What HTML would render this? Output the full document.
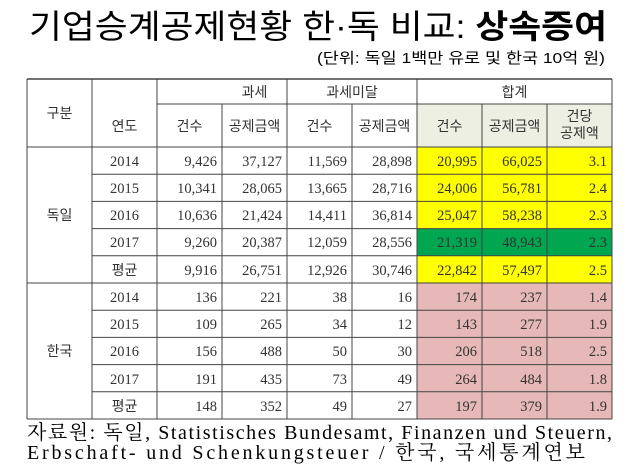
<!DOCTYPE html>
<html><head><meta charset="utf-8"><style>
html,body{margin:0;padding:0;background:#fff;width:640px;height:469px;overflow:hidden}
svg text{font-family:"Liberation Serif","Noto Serif CJK SC",serif;fill:#333}
.k{font-family:"Liberation Sans","Noto Sans CJK KR",sans-serif;}
</style></head><body>
<svg width="640" height="469" xmlns="http://www.w3.org/2000/svg">
<text x="318" y="38" text-anchor="middle" class="k" style="font-size:33px;fill:#000" textLength="578" lengthAdjust="spacingAndGlyphs">기업승계공제현황 한·독 비교: <tspan font-weight="bold">상속증여</tspan></text>
<text x="605" y="63" text-anchor="end" class="k" style="font-size:15px;fill:#000" textLength="288" lengthAdjust="spacingAndGlyphs">(단위: 독일 1백만 유로 및 한국 10억 원)</text>
<rect x="417" y="104" width="195" height="43" fill="#eeefe3"/>
<rect x="417" y="147" width="195" height="81.6" fill="#ffff00"/>
<rect x="417" y="228.6" width="195" height="27.2" fill="#00a650"/>
<rect x="417" y="255.8" width="195" height="27.2" fill="#ffff00"/>
<rect x="417" y="283" width="195" height="136" fill="#e6b9b8"/>
<g stroke="#444" stroke-width="1" fill="none">
<line x1="27" y1="79" x2="612" y2="79" stroke-width="1.5"/>
<line x1="157" y1="104" x2="612" y2="104"/>
<line x1="27" y1="147" x2="612" y2="147"/>
<line x1="92" y1="174.2" x2="612" y2="174.2"/>
<line x1="92" y1="201.4" x2="612" y2="201.4"/>
<line x1="92" y1="228.6" x2="612" y2="228.6"/>
<line x1="92" y1="255.8" x2="612" y2="255.8"/>
<line x1="27" y1="283" x2="612" y2="283"/>
<line x1="92" y1="310.2" x2="612" y2="310.2"/>
<line x1="92" y1="337.4" x2="612" y2="337.4"/>
<line x1="92" y1="364.6" x2="612" y2="364.6"/>
<line x1="92" y1="391.8" x2="612" y2="391.8"/>
<line x1="27" y1="419" x2="612" y2="419"/>
<line x1="27" y1="79" x2="27" y2="419"/>
<line x1="92" y1="79" x2="92" y2="419"/>
<line x1="157" y1="79" x2="157" y2="419"/>
<line x1="222" y1="104" x2="222" y2="419"/>
<line x1="287" y1="79" x2="287" y2="419"/>
<line x1="352" y1="104" x2="352" y2="419"/>
<line x1="417" y1="79" x2="417" y2="419"/>
<line x1="482" y1="104" x2="482" y2="419"/>
<line x1="547" y1="104" x2="547" y2="419"/>
<line x1="612" y1="79" x2="612" y2="419"/>
</g>
<g class="k" style="font-size:14px" text-anchor="middle">
<text class="k" x="59.5" y="118">구분</text>
<text class="k" x="124.5" y="131">연도</text>
<text class="k" x="254.5" y="97">과세</text>
<text class="k" x="352" y="97">과세미달</text>
<text class="k" x="514.5" y="97">합계</text>
<text class="k" x="189.5" y="131">건수</text>
<text class="k" x="254.5" y="131">공제금액</text>
<text class="k" x="319.5" y="131">건수</text>
<text class="k" x="384.5" y="131">공제금액</text>
<text class="k" x="449.5" y="131">건수</text>
<text class="k" x="514.5" y="131">공제금액</text>
<text class="k" x="579.5" y="121">건당</text>
<text class="k" x="579.5" y="138">공제액</text>
<text class="k" x="59.5" y="220">독일</text>
<text class="k" x="59.5" y="356">한국</text>
</g>
<g style="font-size:14.5px" text-anchor="middle">
<text x="124.5" y="166">2014</text><text x="124.5" y="193">2015</text><text x="124.5" y="220">2016</text><text x="124.5" y="247">2017</text><text class="k" x="124.5" y="275" style="font-size:14px">평균</text>
<text x="124.5" y="302">2014</text><text x="124.5" y="329">2015</text><text x="124.5" y="356">2016</text><text x="124.5" y="384">2017</text><text class="k" x="124.5" y="411" style="font-size:14px">평균</text>
</g>
<g style="font-size:14.5px" text-anchor="end">
<text x="217" y="166">9,426</text><text x="282" y="166">37,127</text><text x="347" y="166">11,569</text><text x="412" y="166">28,898</text><text x="477" y="166">20,995</text><text x="542" y="166">66,025</text><text x="607" y="166">3.1</text>
<text x="217" y="193">10,341</text><text x="282" y="193">28,065</text><text x="347" y="193">13,665</text><text x="412" y="193">28,716</text><text x="477" y="193">24,006</text><text x="542" y="193">56,781</text><text x="607" y="193">2.4</text>
<text x="217" y="220">10,636</text><text x="282" y="220">21,424</text><text x="347" y="220">14,411</text><text x="412" y="220">36,814</text><text x="477" y="220">25,047</text><text x="542" y="220">58,238</text><text x="607" y="220">2.3</text>
<text x="217" y="247">9,260</text><text x="282" y="247">20,387</text><text x="347" y="247">12,059</text><text x="412" y="247">28,556</text><text x="477" y="247">21,319</text><text x="542" y="247">48,943</text><text x="607" y="247">2.3</text>
<text x="217" y="275">9,916</text><text x="282" y="275">26,751</text><text x="347" y="275">12,926</text><text x="412" y="275">30,746</text><text x="477" y="275">22,842</text><text x="542" y="275">57,497</text><text x="607" y="275">2.5</text>
<text x="217" y="302">136</text><text x="282" y="302">221</text><text x="347" y="302">38</text><text x="412" y="302">16</text><text x="477" y="302">174</text><text x="542" y="302">237</text><text x="607" y="302">1.4</text>
<text x="217" y="329">109</text><text x="282" y="329">265</text><text x="347" y="329">34</text><text x="412" y="329">12</text><text x="477" y="329">143</text><text x="542" y="329">277</text><text x="607" y="329">1.9</text>
<text x="217" y="356">156</text><text x="282" y="356">488</text><text x="347" y="356">50</text><text x="412" y="356">30</text><text x="477" y="356">206</text><text x="542" y="356">518</text><text x="607" y="356">2.5</text>
<text x="217" y="384">191</text><text x="282" y="384">435</text><text x="347" y="384">73</text><text x="412" y="384">49</text><text x="477" y="384">264</text><text x="542" y="384">484</text><text x="607" y="384">1.8</text>
<text x="217" y="411">148</text><text x="282" y="411">352</text><text x="347" y="411">49</text><text x="412" y="411">27</text><text x="477" y="411">197</text><text x="542" y="411">379</text><text x="607" y="411">1.9</text>
</g>
<text x="27" y="439" style="font-size:20px;fill:#000;font-family:'Liberation Serif','Noto Serif CJK SC',serif" textLength="585" lengthAdjust="spacing">자료원: 독일, Statistisches Bundesamt, Finanzen und Steuern,</text>
<text x="27" y="459" style="font-size:20px;fill:#000;font-family:'Liberation Serif','Noto Serif CJK SC',serif" textLength="558" lengthAdjust="spacing">Erbschaft- und Schenkungsteuer / 한국, 국세통계연보</text>
</svg>
</body></html>
